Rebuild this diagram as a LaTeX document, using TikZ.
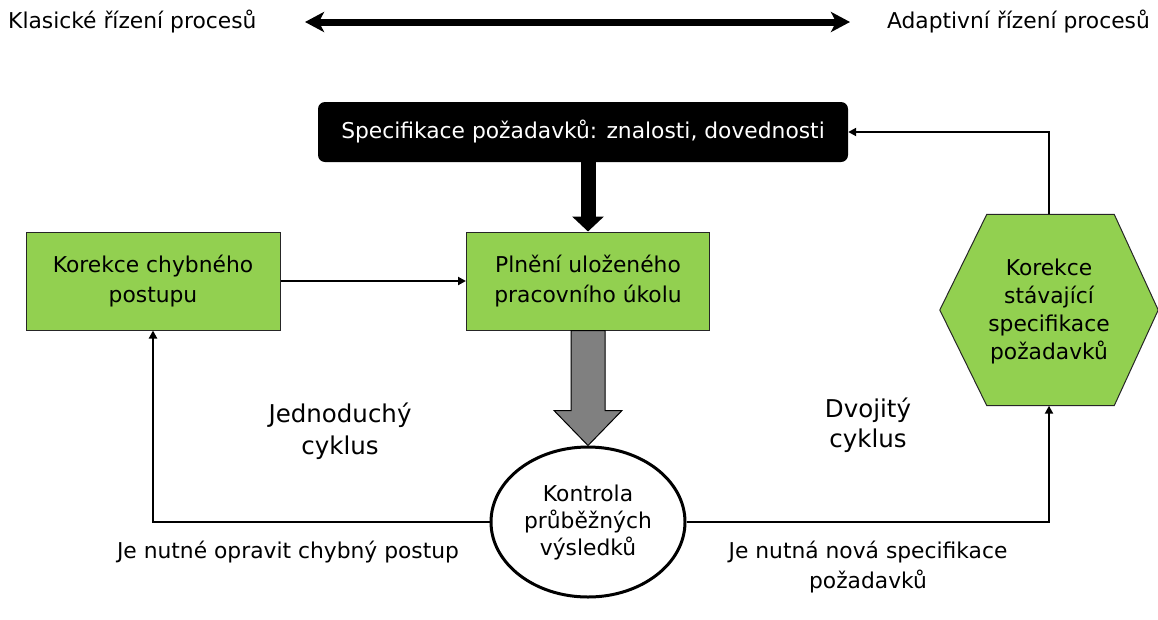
\documentclass[tikz,border=0pt]{standalone}
\usepackage{fontspec}
\setmainfont{DejaVu Sans}
\usetikzlibrary{arrows.meta,calc,shapes.geometric}
\definecolor{grn}{HTML}{92D050}
\begin{document}
\begin{tikzpicture}[x=1pt,y=-1pt,
  txt/.style={font=\fontsize{21.8}{30}\selectfont, align=center, inner sep=0pt},
  big/.style={font=\fontsize{24.5}{31}\selectfont, align=center, inner sep=0pt},
  gbox/.style={txt, draw=black!85, line width=1pt, fill=grn, minimum height=98pt},
  conn/.style={line width=2pt, -{Triangle[width=8pt,length=8pt]}},
  bigtip/.style={Stealth[width=20pt,length=19pt,inset=5pt]}
]
\useasboundingbox (0,0) rectangle (1158,619);

% top scale
\node[txt, anchor=west] (klas) at (8,22) {Klasické řízení procesů};
\node[txt, anchor=east] (adap) at (1150,22) {Adaptivní řízení procesů};
\coordinate (la) at (305,22);
\coordinate (ra) at (850,22);
\draw[line width=7pt, {Stealth[width=20pt,length=19pt,inset=5pt]}-{Stealth[width=20pt,length=19pt,inset=5pt]}] (la) -- (ra);

% nodes
\node[txt, fill=black, text=white, rounded corners=7pt, minimum width=530pt, minimum height=60pt] (spec) at (583,132) {Specifikace požadavků: znalosti, dovednosti};
\node[gbox, minimum width=254pt] (kor) at (153,281) {Korekce chybného\\postupu};
\node[gbox, minimum width=243pt] (pln) at (588,281) {Plnění uloženého\\pracovního úkolu};
\node[txt, ellipse, draw, line width=3pt, fill=white, minimum width=194pt, minimum height=150pt, font=\fontsize{21.8}{27}\selectfont] (kon) at (588,522) {Kontrola\\průběžných\\výsledků};
\node[inner sep=0pt, minimum width=218pt, minimum height=191pt] (hex) at (1049,310) {};
\draw[fill=grn, draw=black!85, line width=1pt]
  ($(hex.north west)+(47,0)$) -- ($(hex.north east)+(-44,0)$) -- (hex.east) --
  ($(hex.south east)+(-44,0)$) -- ($(hex.south west)+(47,0)$) -- (hex.west) -- cycle;
\node[txt, font=\fontsize{21.8}{28}\selectfont] (hext) at ($(hex.center)+(0,1)$) {Korekce\\stávající\\specifikace\\požadavků};

% arrows
\draw[line width=15pt, -{Triangle[width=31pt,length=15pt]}] (spec.south -| pln.north) -- (pln.north);
\draw[fill=black!50, draw=black, line width=1pt]
  ($(pln.south)+(-17,0)$) -- ($(pln.south)+(17,0)$) -- ($(pln.south)+(17,80)$) --
  ($(pln.south)+(34,80)$) -- (kon.north) -- ($(pln.south)+(-34,80)$) --
  ($(pln.south)+(-17,80)$) -- cycle;
\draw[conn] (kor.east) -- (pln.west);
\draw[conn] (kon.west) -| (kor.south);
\draw[conn] (kon.east) -| (hex.south);
\draw[conn] (hex.north) |- (spec.east);

% labels
\node[txt] (l1) at (288,552) {Je nutné opravit chybný postup};
\node[txt] (l2) at (868,567) {Je nutná nová specifikace\\požadavků};
\node[big, font=\fontsize{24.5}{32}\selectfont] (c1) at (340,431) {Jednoduchý\\cyklus};
\node[big, font=\fontsize{24.5}{30}\selectfont] (c2) at (868,425) {Dvojitý\\cyklus};
\end{tikzpicture}
\end{document}
